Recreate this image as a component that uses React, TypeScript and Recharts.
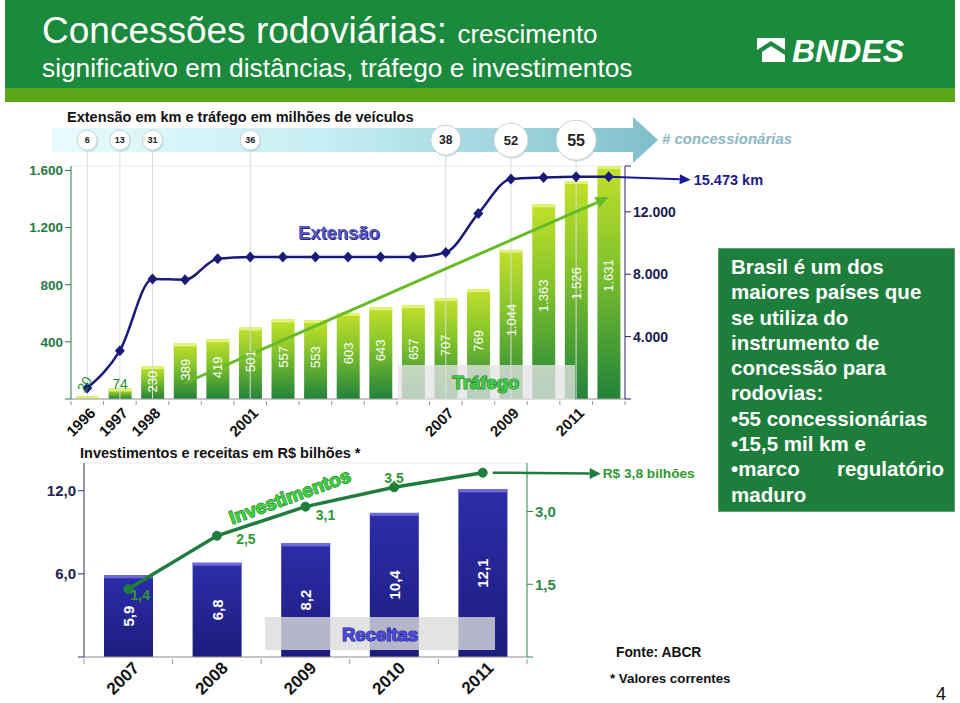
import React from "react";
import {
  ComposedChart, Bar, Line, XAxis, YAxis, CartesianGrid, LabelList, ReferenceLine, ReferenceDot,
} from "recharts";

// extensão e tráfego (1996-2012)
const anos = ["1996", "1997", "1998", "1999", "2000", "2001", "2002", "2003", "2004", "2005", "2006", "2007", "2008", "2009", "2010", "2011", "2012"];
const trafego = [20, 74, 230, 389, 419, 501, 557, 553, 603, 643, 657, 707, 769, 1044, 1363, 1526, 1631];
const extensao = [700, 3100, 7700, 7650, 9000, 9100, 9100, 9100, 9100, 9100, 9100, 9400, 11900, 14100, 14200, 14250, 14250];
const anosRotulados = ["1996", "1997", "1998", "2001", "2007", "2009", "2011"];
const concessionarias = [6, 13, 31, 36, 38, 52, 55];
const tendenciaTrafego = [{ ano: "1999", valor: 112 }, { ano: "2012", valor: 1412 }];
const extensaoTotal = "15.473 km";

// investimentos e receitas (2007-2011)
const anosInvest = ["2007", "2008", "2009", "2010", "2011"];
const receitas = [5.9, 6.8, 8.2, 10.4, 12.1];
const investimentos = [1.4, 2.5, 3.1, 3.5, 3.8];
const investimentoTotal = "R$ 3,8 bilhões";

// estilo
const raioCirculo = [10, 10, 10, 10, 15, 17, 20];
const fonteCirculo = [9, 9, 9, 9, 12, 13, 16];
const deslocInvest = [[12, 6], [29, 3], [20, 8], [0, -9]];
const FONTE = '"Liberation Sans", Arial, Helvetica, sans-serif';
const ESQ_MAX = 1630;
const DIR_MAX = 14940;
const CIRC_Y = 1812;

const fmtMil = (v: number) => String(v).replace(/\B(?=(\d{3})+(?!\d))/g, ".");
const fmtDec = (v: number) => v.toFixed(1).replace(".", ",");

const dadosTopo = anos.map((ano, i) => ({ ano, trafego: trafego[i], extensao: extensao[i] }));
const dadosBase = anosInvest.map((ano, i) => ({ ano, receitas: receitas[i], investimentos: investimentos[i] }));

const caixa = (p: any) => {
  const vb = p.viewBox || {};
  return { x: vb.x ?? p.x, y: vb.y ?? p.y, width: vb.width ?? p.width, height: vb.height ?? p.height };
};

const BarraTrafego = (p: any) => {
  const { x, y, width, height } = p;
  if (!height || height <= 0) return <g />;
  return (
    <g>
      <rect x={x} y={y} width={width} height={height} fill="url(#gradTrafego)" />
      <rect x={x} y={y} width={width} height={Math.min(3, height)} fill="#e2f37a" />
    </g>
  );
};

const BarraReceita = (p: any) => {
  const { x, y, width, height } = p;
  if (!height || height <= 0) return <g />;
  return (
    <g>
      <rect x={x} y={y} width={width} height={height} fill="url(#gradReceita)" />
      <rect x={x} y={y} width={width} height={3} fill="#6a6ad8" />
    </g>
  );
};

const RotuloTrafego = (p: any) => {
  const { x, y, width, height } = caixa(p);
  const v = Number(p.value);
  const cx = x + width / 2;
  if (height < 20) {
    if (v < 40) {
      return (
        <text x={cx - 3} y={y - 12} transform={`rotate(-60 ${cx - 3} ${y - 12})`} textAnchor="middle"
          dominantBaseline="central" fill="#229036" fontSize={14} fontFamily={FONTE}>{fmtMil(v)}</text>
      );
    }
    return (
      <text x={cx} y={y - 4} textAnchor="middle" dominantBaseline="central" fill="#229036"
        fontSize={14} fontFamily={FONTE}>{fmtMil(v)}</text>
    );
  }
  const cy = y + height * 0.47;
  return (
    <text x={cx} y={cy} transform={`rotate(-90 ${cx} ${cy})`} textAnchor="middle" dominantBaseline="central"
      fill="#ffffff" fontSize={13} fontFamily={FONTE}>{fmtMil(v)}</text>
  );
};

const RotuloReceita = (p: any) => {
  const { x, y, width, height } = caixa(p);
  const cx = x + width / 2;
  const cy = y + height * 0.5;
  return (
    <text x={cx} y={cy} transform={`rotate(-90 ${cx} ${cy})`} textAnchor="middle" dominantBaseline="central"
      fill="#ffffff" fontSize={15} fontWeight="bold" fontFamily={FONTE}>{fmtDec(Number(p.value))}</text>
  );
};

const RotuloInvest = (p: any) => {
  const { x, y } = caixa(p);
  const i = p.index;
  if (i >= deslocInvest.length) return <g />;
  const [dx, dy] = deslocInvest[i];
  return (
    <text x={x + dx} y={y + dy} textAnchor="middle" dominantBaseline="central" fill="#2e9a32"
      fontSize={14} fontWeight="bold" fontFamily={FONTE}>{fmtDec(Number(p.value))}</text>
  );
};

const Diamante = (p: any) => {
  const { cx, cy, index } = p;
  if (cx == null || cy == null) return <g key={`d${index}`} />;
  return <path key={`d${index}`} d={`M${cx},${cy - 5.5}L${cx + 5},${cy}L${cx},${cy + 5.5}L${cx - 5},${cy}Z`} fill="#1a1a78" />;
};

const seta = (x1: number, y1: number, x2: number, y2: number, cor: string, w: number, L = 12, W = 6) => {
  const ang = Math.atan2(y2 - y1, x2 - x1);
  const bx = x2 - L * Math.cos(ang);
  const by = y2 - L * Math.sin(ang);
  const px = -Math.sin(ang) * W;
  const py = Math.cos(ang) * W;
  return (
    <g>
      <line x1={x1} y1={y1} x2={bx} y2={by} stroke={cor} strokeWidth={w} />
      <polygon points={`${x2},${y2} ${bx + px},${by + py} ${bx - px},${by - py}`} fill={cor} />
    </g>
  );
};

const SetaTrafego = (p: any) => seta(p.x1, p.y1, p.x2, p.y2, "#67bb26", 3, 13, 6);

const TickTopo = (p: any) => {
  const { x, y, payload, index } = p;
  const meia = 554 / anos.length / 2;
  const ano = payload.value;
  return (
    <g>
      <line x1={x - meia} y1={y - 6} x2={x - meia} y2={y - 2} stroke="#9a9a9a" />
      {index === anos.length - 1 && <line x1={x + meia} y1={y - 6} x2={x + meia} y2={y - 2} stroke="#9a9a9a" />}
      {anosRotulados.includes(ano) && (
        <text x={x + 9} y={y + 7} transform={`rotate(-45 ${x + 9} ${y + 7})`} textAnchor="end"
          fontSize={15} fontWeight="bold" fontFamily={FONTE} fill="#111">{ano}</text>
      )}
    </g>
  );
};

const TickBase = (p: any) => {
  const { x, y, payload, index } = p;
  const meia = 443 / anosInvest.length / 2;
  return (
    <g>
      <line x1={x - meia} y1={y - 6} x2={x - meia} y2={y - 1} stroke="#9a9a9a" />
      {index === anosInvest.length - 1 && <line x1={x + meia} y1={y - 6} x2={x + meia} y2={y - 1} stroke="#9a9a9a" />}
      <text x={x + 12} y={y + 4} transform={`rotate(-45 ${x + 12} ${y + 4})`} textAnchor="end"
        fontSize={17} fontWeight="bold" fontFamily={FONTE} fill="#111">{payload.value}</text>
    </g>
  );
};

function GraficoTopo() {
  return (
    <ComposedChart width={960} height={345} data={dadosTopo} margin={{ top: 66, right: 275, bottom: 6, left: 11 }}>
      <defs>
        <linearGradient id="gradTrafego" x1="0" y1="0" x2="0" y2="1">
          <stop offset="0%" stopColor="#c3e02a" />
          <stop offset="40%" stopColor="#86c52c" />
          <stop offset="100%" stopColor="#21833a" />
        </linearGradient>
      </defs>
      <YAxis yAxisId="grade" hide domain={[0, ESQ_MAX]} ticks={[0, 200, 400, 600, 800, 1000, 1200, 1400, 1600]} />
      <CartesianGrid yAxisId="grade" vertical={false} stroke="#e8e8e8" />
      <XAxis dataKey="ano" height={40} interval={0} tickLine={false} tick={<TickTopo />} axisLine={{ stroke: "#9a9a9a" }} />
      <YAxis yAxisId="esq" domain={[0, ESQ_MAX]} ticks={[0, 400, 800, 1200, 1600]} width={60} stroke="#2b7d4d"
        tickFormatter={(v: number) => (v === 0 ? "" : fmtMil(v))}
        tick={{ fill: "#1f7a45", fontSize: 13.5, fontWeight: "bold", fontFamily: FONTE }} />
      <YAxis yAxisId="dir" orientation="right" domain={[0, DIR_MAX]} ticks={[0, 4000, 8000, 12000, DIR_MAX]} width={60}
        stroke="#24246e" tickFormatter={(v: number) => (v === 0 || v === DIR_MAX ? "" : fmtMil(v))}
        tick={{ fill: "#1c1c4c", fontSize: 14, fontWeight: "bold", fontFamily: FONTE }} />
      {anosRotulados.map((a) => (
        <ReferenceLine key={`v${a}`} yAxisId="esq" segment={[{ x: a, y: 0 }, { x: a, y: CIRC_Y }]}
          stroke="#dcdcdc" ifOverflow="visible" />
      ))}
      <Bar yAxisId="esq" dataKey="trafego" barSize={23} shape={BarraTrafego} isAnimationActive={false}>
        <LabelList dataKey="trafego" content={RotuloTrafego} />
      </Bar>
      <ReferenceLine yAxisId="esq" ifOverflow="visible" shape={SetaTrafego}
        segment={[{ x: tendenciaTrafego[0].ano, y: tendenciaTrafego[0].valor }, { x: tendenciaTrafego[1].ano, y: tendenciaTrafego[1].valor }]} />
      <Line yAxisId="dir" dataKey="extensao" type="monotone" stroke="#1a1a78" strokeWidth={2.5}
        dot={Diamante} activeDot={false} isAnimationActive={false} />
      <ReferenceDot yAxisId="dir" x={anos[anos.length - 1]} y={extensao[extensao.length - 1]} ifOverflow="visible"
        shape={(p: any) => (
          <g>
            {seta(p.cx, p.cy, p.cx + 82, p.cy + 3, "#1a1a9a", 2, 11, 5)}
            <text x={p.cx + 85} y={p.cy + 3} dominantBaseline="central" fontSize={14.5} fontWeight="bold"
              fontFamily={FONTE} fill="#1a1a8a">{extensaoTotal}</text>
          </g>
        )} />
      {anosRotulados.map((a, i) => (
        <ReferenceDot key={`c${a}`} yAxisId="esq" x={a} y={CIRC_Y} ifOverflow="visible"
          shape={(p: any) => (
            <g>
              <circle cx={p.cx + 1} cy={p.cy + 1.5} r={raioCirculo[i]} fill="#9fc7cf" opacity={0.5} />
              <circle cx={p.cx} cy={p.cy} r={raioCirculo[i]} fill="#ffffff" stroke="#c9d3d6" strokeWidth={1} />
              <text x={p.cx} y={p.cy} textAnchor="middle" dominantBaseline="central" fontSize={fonteCirculo[i]}
                fontWeight="bold" fontFamily={FONTE} fill="#222">{concessionarias[i]}</text>
            </g>
          )} />
      ))}
    </ComposedChart>
  );
}

function GraficoBase() {
  return (
    <ComposedChart width={960} height={263} data={dadosBase} margin={{ top: 23, right: 383, bottom: 1, left: 24 }}>
      <defs>
        <linearGradient id="gradReceita" x1="0" y1="0" x2="0" y2="1">
          <stop offset="0%" stopColor="#2d2daa" />
          <stop offset="100%" stopColor="#1c1c7c" />
        </linearGradient>
      </defs>
      <YAxis yAxisId="grade" hide domain={[0, 14]} ticks={[0, 2, 4, 6, 8, 10, 12, 14]} />
      <CartesianGrid yAxisId="grade" vertical={false} stroke="#e8e8e8" />
      <XAxis dataKey="ano" height={45} interval={0} tickLine={false} tick={<TickBase />} axisLine={{ stroke: "#9a9a9a" }} />
      <YAxis yAxisId="esq" domain={[0, 14]} ticks={[0, 6, 12]} width={60} stroke="#2b2b6e"
        tickFormatter={(v: number) => (v === 0 ? "" : fmtDec(v))}
        tick={{ fill: "#22224e", fontSize: 15, fontWeight: "bold", fontFamily: FONTE }} />
      <YAxis yAxisId="dir" orientation="right" domain={[0, 4]} ticks={[0, 1.5, 3]} width={50} stroke="#2a8a4a"
        tickFormatter={(v: number) => (v === 0 ? "" : fmtDec(v))}
        tick={{ fill: "#2a8a4a", fontSize: 15, fontWeight: "bold", fontFamily: FONTE }} />
      <Bar yAxisId="esq" dataKey="receitas" barSize={49} shape={BarraReceita} isAnimationActive={false}>
        <LabelList dataKey="receitas" content={RotuloReceita} />
      </Bar>
      <Line yAxisId="dir" dataKey="investimentos" type="linear" stroke="#1e7d3c" strokeWidth={3.5}
        dot={{ r: 4.5, fill: "#1e7d3c", stroke: "#1e7d3c", strokeWidth: 1 }} activeDot={false} isAnimationActive={false}>
        <LabelList dataKey="investimentos" content={RotuloInvest} />
      </Line>
      <ReferenceDot yAxisId="dir" x={anosInvest[anosInvest.length - 1]} y={investimentos[investimentos.length - 1]}
        ifOverflow="visible"
        shape={(p: any) => (
          <g>
            {seta(p.cx + 10, p.cy, p.cx + 118, p.cy + 1, "#1e7d3c", 2.5, 11, 5.5)}
            <text x={p.cx + 120} y={p.cy + 1} dominantBaseline="central" fontSize={13.7} fontWeight="bold"
              fontFamily={FONTE} fill="#2e9a32">{investimentoTotal}</text>
          </g>
        )} />
    </ComposedChart>
  );
}

const contorno = { paintOrder: "stroke" as const };

export default function App() {
  return (
    <div style={{ position: "absolute", left: 0, top: 0, width: 960, height: 703, background: "#fff", overflow: "hidden", fontFamily: FONTE }}>
      <svg width={960} height={703} style={{ position: "absolute", left: 0, top: 0 }}>
        <defs>
          <linearGradient id="faixa" x1="0" y1="0" x2="1" y2="0">
            <stop offset="0%" stopColor="#e6fbfd" />
            <stop offset="45%" stopColor="#c6eef4" />
            <stop offset="100%" stopColor="#80bfcb" />
          </linearGradient>
        </defs>
        <rect x={5} y={0} width={950} height={88} fill="#1b8a3d" />
        <rect x={5} y={88} width={950} height={14} fill="#5aa818" />
        <text x={42} y={43} fontSize={37} fill="#fff" fontFamily={FONTE}>
          Concessões rodoviárias: <tspan fontSize={26}>crescimento</tspan>
        </text>
        <text x={42} y={77} fontSize={26.3} fill="#fff" fontFamily={FONTE}>significativo em distâncias, tráfego e investimentos</text>
        <rect x={757} y={38} width={28} height={24} fill="#fff" />
        <polygon points="757,50 771,41 785,50 785,55 771,46 762,52 762,62 757,62" fill="#1b8a3d" />
        <text x={792} y={62} fontSize={32} fontWeight="bold" fontStyle="italic" fill="#fff" fontFamily={FONTE}>BNDES</text>

        <text x={67} y={122} fontSize={14.5} fontWeight="bold" fill="#111" fontFamily={FONTE}>Extensão em km e tráfego em milhões de veículos</text>
        <polygon points="52,128 633,128 633,117 658,140 633,163 633,152 52,152" fill="url(#faixa)" />
        <text x={662} y={144} fontSize={15} fontWeight="bold" fontStyle="italic" fill="#8db6c6" fontFamily={FONTE}># concessionárias</text>

        <text x={80} y={458} fontSize={14.5} fontWeight="bold" fill="#111" fontFamily={FONTE}>Investimentos e receitas em R$ bilhões *</text>
        <text x={616} y={657} fontSize={13.8} fontWeight="bold" fill="#111" fontFamily={FONTE}>Fonte: ABCR</text>
        <text x={610} y={683} fontSize={13.3} fontWeight="bold" fill="#111" fontFamily={FONTE}>* Valores correntes</text>
        <text x={936} y={700} fontSize={18} fill="#111" fontFamily={FONTE}>4</text>
      </svg>

      <div style={{ position: "absolute", left: 0, top: 100 }}>
        <GraficoTopo />
      </div>
      <div style={{ position: "absolute", left: 0, top: 440 }}>
        <GraficoBase />
      </div>

      <svg width={960} height={703} style={{ position: "absolute", left: 0, top: 0, pointerEvents: "none" }}>
        <text x={299} y={240} fontSize={18.4} fontWeight="bold" fill="#2a2a78" fontFamily={FONTE}>Extensão</text>
        <text x={298} y={239} fontSize={18.4} fontWeight="bold" fill="#5656c4" fontFamily={FONTE}>Extensão</text>

        <rect x={398} y={365} width={177} height={35} fill="#e4e4e4" opacity={0.78} />
        <text x={486} y={389} textAnchor="middle" fontSize={18.5} fontWeight="bold" fill="#3fcc3f" stroke="#1b7a2a"
          strokeWidth={1.2} style={contorno} fontFamily={FONTE}>Tráfego</text>

        <text x={290} y={503} textAnchor="middle" transform="rotate(-20 290 497)" fontSize={19} fontWeight="bold"
          fill="#3fd43f" stroke="#1b7a2a" strokeWidth={1.2} style={contorno} fontFamily={FONTE}>Investimentos</text>

        <rect x={265} y={617} width={230} height={33} fill="#dcdcdc" opacity={0.8} />
        <text x={380} y={641} textAnchor="middle" fontSize={18.5} fontWeight="bold" fill="#4a4ae0" stroke="#1e1e80"
          strokeWidth={1.2} style={contorno} fontFamily={FONTE}>Receitas</text>
      </svg>

      <div style={{
        position: "absolute", left: 718, top: 248, width: 237, height: 264, boxSizing: "border-box",
        background: "#1d7d3b", border: "1px solid #5aa06a", padding: "5px 10px 0 12px", color: "#fff",
        fontWeight: "bold", fontSize: 20.5, lineHeight: "25.3px", fontFamily: FONTE,
      }}>
        <div>Brasil é um dos</div>
        <div>maiores países que</div>
        <div>se utiliza do</div>
        <div>instrumento de</div>
        <div>concessão para</div>
        <div>rodovias:</div>
        <div>•55 concessionárias</div>
        <div>•15,5 mil km e</div>
        <div style={{ display: "flex", justifyContent: "space-between" }}><span>•marco</span><span>regulatório</span></div>
        <div>maduro</div>
      </div>
    </div>
  );
}
